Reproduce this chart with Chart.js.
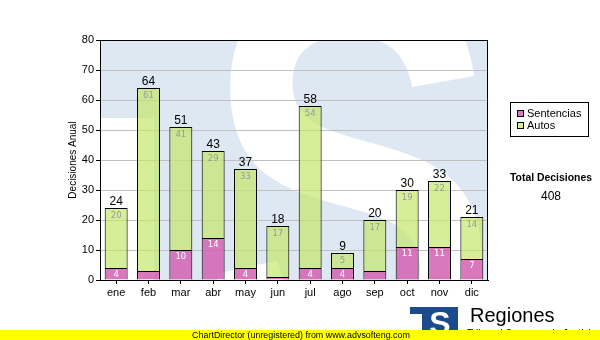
<!DOCTYPE html>
<html><head><meta charset="utf-8">
<script src="https://cdn.jsdelivr.net/npm/chart.js@4"></script>
<style>html,body{margin:0;padding:0;background:#fff;}canvas{display:block;}</style>
</head><body>
<canvas id="c" width="600" height="340"></canvas>
<script>
const months = ['ene','feb','mar','abr','may','jun','jul','ago','sep','oct','nov','dic'];
const sentencias = [4,3,10,14,4,1,4,4,3,11,11,7];
const autos = [20,61,41,29,33,17,54,5,17,19,22,14];
const yTicks = [0,10,20,30,40,50,60,70,80];
const seriesNames = ['Sentencias','Autos'];
const yTitle = 'Decisiones Anual';
const totalTitle = 'Total Decisiones';
const logoTitle = 'Regiones';
const logoSub = 'Tribunal Supremo de Justicia';
const bannerText = 'ChartDirector (unregistered) from www.advsofteng.com';
const totals = months.map((m,i)=>sentencias[i]+autos[i]);
const grandTotal = totals.reduce((a,b)=>a+b,0);

const PINK='rgba(212,96,179,0.85)', GREEN='rgba(196,231,108,0.7)';
const SANS='"Liberation Sans", Arial, sans-serif';

const bgPlugin = {
  id:'bg',
  beforeDraw(chart){
    const ctx=chart.ctx, a=chart.chartArea;
    ctx.save();
    ctx.beginPath(); ctx.rect(a.left,a.top,a.right-a.left,a.bottom-a.top); ctx.clip();
    ctx.fillStyle='#dee8f2'; ctx.fillRect(a.left,a.top,a.right-a.left,a.bottom-a.top);
    ctx.fillStyle='#ffffff';
    ctx.fillRect(a.left,118,154-a.left,a.bottom-118);
    ctx.font='bold 400px "Liberation Sans"';
    const mt=ctx.measureText('S');
    const gw=mt.actualBoundingBoxLeft+mt.actualBoundingBoxRight;
    const gh=mt.actualBoundingBoxAscent+mt.actualBoundingBoxDescent;
    const bx0=210,bx1=488,by0=-25,by1=385;
    ctx.translate(bx0,by0); ctx.scale((bx1-bx0)/gw,(by1-by0)/gh);
    ctx.textBaseline='alphabetic'; ctx.textAlign='left';
    ctx.fillText('S', mt.actualBoundingBoxLeft, mt.actualBoundingBoxAscent);
    ctx.restore();
  }
};

const labelPlugin = {
  id:'labels',
  afterDatasetsDraw(chart){
    const ctx=chart.ctx, a=chart.chartArea;
    const m0=chart.getDatasetMeta(0), m1=chart.getDatasetMeta(1);
    ctx.save();
    ctx.textAlign='center'; ctx.textBaseline='middle';
    m1.data.forEach((bar,i)=>{
      ctx.fillStyle='#000'; ctx.font='12px '+SANS;
      ctx.fillText(String(totals[i]), bar.x, bar.y-6);
      ctx.fillStyle='#999999'; ctx.font='8.5px "DejaVu Sans"';
      ctx.fillText(String(autos[i]), bar.x, bar.y+7.5);
    });
    m0.data.forEach((bar,i)=>{
      if(sentencias[i]>=4){
        ctx.fillStyle='#ffffff'; ctx.font='8.5px "DejaVu Sans"';
        ctx.fillText(String(sentencias[i]), bar.x, bar.y+6.5);
      }
    });
    ctx.strokeStyle='#000'; ctx.lineWidth=1;
    ctx.strokeRect(a.left+0.5,a.top+0.5,a.right-a.left-1,a.bottom-a.top);
    ctx.restore();
  },
  afterDraw(chart){
    const ctx=chart.ctx;
    ctx.save();
    ctx.translate(73,160); ctx.rotate(-Math.PI/2);
    ctx.fillStyle='#000'; ctx.font='10px '+SANS; ctx.textAlign='center'; ctx.textBaseline='middle';
    ctx.fillText(yTitle,0,0);
    ctx.restore();
    ctx.save();
    ctx.strokeStyle='#000'; ctx.lineWidth=1;
    ctx.fillStyle='#fff'; ctx.fillRect(510.5,102.5,78,34);
    ctx.strokeRect(510.5,102.5,78,34);
    const cols=[PINK,GREEN];
    seriesNames.forEach((n,k)=>{
      const y=110.5+k*12;
      ctx.fillStyle=cols[k]; ctx.fillRect(517.5,y,6,6);
      ctx.strokeStyle='#000'; ctx.strokeRect(517.5,y,6,6);
      ctx.fillStyle='#000'; ctx.font='11px '+SANS; ctx.textAlign='left'; ctx.textBaseline='alphabetic';
      ctx.fillText(n,527,117+k*12);
    });
    let fs=11; ctx.font='bold '+fs+'px '+SANS;
    const w=ctx.measureText(totalTitle).width; fs=fs*82/w;
    ctx.font='bold '+fs.toFixed(2)+'px '+SANS; ctx.textAlign='center';
    ctx.fillText(totalTitle,551,181);
    ctx.font='12px '+SANS; ctx.fillText(String(grandTotal),551,200);
    // logo
    ctx.fillStyle='#1b4b8c'; ctx.fillRect(410,307,48,30);
    ctx.fillStyle='#fff'; ctx.fillRect(410,314,12,20);
    ctx.font='bold 32px '+SANS; ctx.textAlign='center';
    ctx.fillText('S',440,334);
    ctx.fillStyle='#000'; ctx.font='20px '+SANS; ctx.textAlign='left';
    ctx.fillText(logoTitle,470,322);
    ctx.font='10px '+SANS; ctx.fillText(logoSub,467,337);
    // banner
    ctx.fillStyle='#ffff00'; ctx.fillRect(0,330,600,10);
    ctx.fillStyle='#000'; ctx.font='9px '+SANS;
    let bw=ctx.measureText(bannerText).width; let bf=9*218/bw;
    ctx.font=bf.toFixed(2)+'px '+SANS; ctx.textAlign='center';
    ctx.fillText(bannerText,301,338);
    ctx.restore();
  }
};

new Chart(document.getElementById('c').getContext('2d'),{
  type:'bar',
  data:{labels:months,datasets:[
    {label:seriesNames[0],data:sentencias,backgroundColor:PINK,borderColor:'#000',borderWidth:1,borderSkipped:'bottom',barPercentage:0.71,categoryPercentage:1},
    {label:seriesNames[1],data:autos,backgroundColor:GREEN,borderColor:'#000',borderWidth:1,borderSkipped:'bottom',barPercentage:0.71,categoryPercentage:1}
  ]},
  options:{
    responsive:false,animation:false,devicePixelRatio:1,
    layout:{padding:{left:0,right:112,top:40,bottom:0}},
    plugins:{legend:{display:false},tooltip:{enabled:false}},
    scales:{
      x:{stacked:true,
        grid:{offset:false,drawOnChartArea:false,drawTicks:true,tickLength:4,tickColor:'#000'},
        border:{display:true,color:'#000'},
        ticks:{color:'#000',font:{family:SANS,size:11},padding:2,maxRotation:0},
        afterFit(s){s.height=60;}},
      y:{stacked:true,min:0,max:80,
        afterBuildTicks(s){s.ticks=yTicks.map(v=>({value:v}));},
        grid:{color:'#c0c0c0',tickColor:'#000',tickLength:4},
        border:{color:'#000'},
        ticks:{color:'#000',font:{family:SANS,size:11},padding:2},
        afterFit(s){s.width=100;}}
    }
  },
  plugins:[bgPlugin,labelPlugin]
});
</script>
</body></html>
